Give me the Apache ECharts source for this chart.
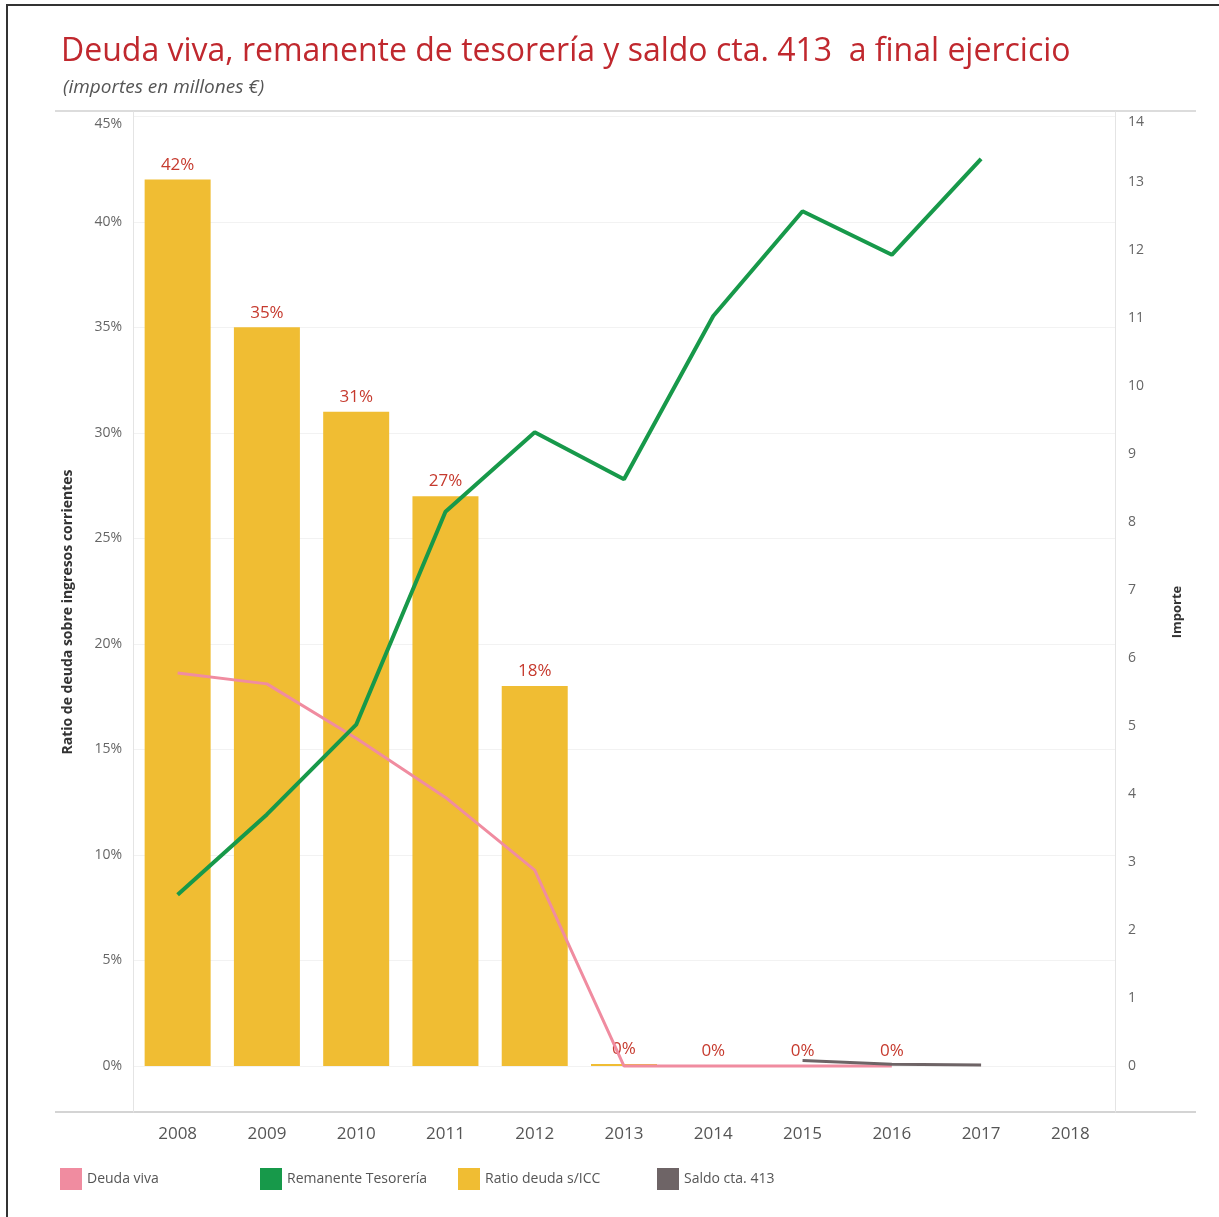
<!DOCTYPE html>
<html>
<head>
<meta charset="utf-8">
<script src="https://cdn.jsdelivr.net/npm/echarts@6/dist/echarts.min.js"></script>
<style>
html,body{margin:0;padding:0;background:#fff;}
#main{width:1219px;height:1217px;}
</style>
</head>
<body>
<div id="main"></div>
<script>
var years = ['2008','2009','2010','2011','2012','2013','2014','2015','2016','2017','2018'];
var ratioDeuda = [42, 35, 31, 27, 18, 0.1, 0, 0, 0, null, null];
var deudaViva = [5.78, 5.62, 4.82, 3.95, 2.88, 0, 0, 0, 0, null, null];
var remanente = [2.52, 3.7, 5.02, 8.15, 9.32, 8.63, 11.03, 12.57, 11.93, 13.34, null];
var saldo413 = [null, null, null, null, null, null, null, 0.08, 0.025, 0.015, null];
var leftTicks = [0, 5, 10, 15, 20, 25, 30, 35, 40, 45];
var rightTicks = [0, 1, 2, 3, 4, 5, 6, 7, 8, 9, 10, 11, 12, 13, 14];

var chart = echarts.init(document.getElementById('main'), null, {renderer: 'canvas'});
var FONT = 'Open Sans';
var legendText = {fontFamily: FONT, fontSize: 14, color: '#555'};
function legendAt(name, left) {
  return {
    data: [name], left: left, top: 1163, icon: 'rect', itemWidth: 22, itemHeight: 22,
    itemGap: 8, textStyle: legendText, selectedMode: false
  };
}
var topRich = {t: {padding: [16, 0, 0, 0], fontFamily: FONT, fontSize: 14, color: '#666'}};
var option = {
  animation: false,
  backgroundColor: '#fff',
  title: [{
    text: 'Deuda viva, remanente de tesorería y saldo cta. 413  a final ejercicio',
    left: 56, top: 31,
    textStyle: {fontFamily: FONT, fontSize: 32, fontWeight: 'normal', color: '#c0282e'}
  }, {
    text: '(importes en millones €)',
    left: 58, top: 73,
    textStyle: {fontFamily: FONT, fontSize: 19, fontStyle: 'italic', fontWeight: 'normal', color: '#555'}
  }],
  legend: [
    legendAt('Deuda viva', 55),
    legendAt('Remanente Tesorería', 255),
    legendAt('Ratio deuda s/ICC', 453),
    legendAt('Saldo cta. 413', 652)
  ],
  grid: {left: 133, right: 104, top: 112, bottom: 105, containLabel: false},
  graphic: [
    {type: 'polyline', shape: {points: [[7, 1217], [7, 5], [1219, 5]]}, style: {stroke: '#333', lineWidth: 2, fill: null}, silent: true},
    {type: 'line', shape: {x1: 55, y1: 111, x2: 1196, y2: 111}, style: {stroke: '#dcdcdc', lineWidth: 2}, silent: true},
    {type: 'line', shape: {x1: 55, y1: 1112, x2: 1196, y2: 1112}, style: {stroke: '#d4d4d4', lineWidth: 2}, silent: true}
  ],
  xAxis: {
    type: 'category', data: years, boundaryGap: true,
    axisLine: {show: false}, axisTick: {show: false},
    axisLabel: {fontFamily: FONT, fontSize: 17, color: '#555', margin: 14}
  },
  yAxis: [{
    type: 'value', min: -2.18, max: 45.2, position: 'left',
    name: 'Ratio de deuda sobre ingresos corrientes', nameLocation: 'middle', nameGap: 58,
    nameTextStyle: {fontFamily: FONT, fontSize: 14, fontWeight: 'bold', color: '#333'},
    axisLine: {show: true, lineStyle: {color: '#e4e4e4', width: 1}},
    axisTick: {show: false, customValues: leftTicks},
    axisLabel: {
      customValues: leftTicks, fontFamily: FONT, fontSize: 14, color: '#666', margin: 11, rich: topRich,
      formatter: function (v) { return v === 45 ? '{t|' + v + '%}' : v + '%'; }
    },
    splitLine: {show: true, lineStyle: {color: '#f2f2f2', width: 1}}
  }, {
    type: 'value', min: -0.676, max: 14.03, position: 'right',
    name: 'Importe', nameLocation: 'middle', nameGap: 56,
    nameTextStyle: {fontFamily: FONT, fontSize: 13, fontWeight: 'bold', color: '#333'},
    nameRotate: 90,
    axisLine: {show: true, lineStyle: {color: '#e4e4e4', width: 1}},
    axisTick: {show: false, customValues: rightTicks},
    axisLabel: {
      customValues: rightTicks, fontFamily: FONT, fontSize: 14, color: '#666', margin: 13, rich: topRich,
      formatter: function (v) { return v === 14 ? '{t|' + v + '}' : String(v); }
    },
    splitLine: {show: false}
  }],
  series: [{
    name: 'Ratio deuda s/ICC', type: 'bar', yAxisIndex: 0, data: ratioDeuda, barWidth: 66,
    itemStyle: {color: '#f0bd33'}, z: 1,
    label: {
      show: true, position: 'top', distance: 6, fontFamily: FONT, fontSize: 17, fontWeight: 500, color: '#c63a2e',
      formatter: function (p) { return p.value == null ? '' : Math.round(p.value) + '%'; }
    }
  }, {
    name: 'Deuda viva', type: 'line', yAxisIndex: 1, data: deudaViva, symbol: 'none',
    lineStyle: {color: '#f08ca0', width: 3}, itemStyle: {color: '#f08ca0'}, z: 3
  }, {
    name: 'Remanente Tesorería', type: 'line', yAxisIndex: 1, data: remanente, symbol: 'none',
    lineStyle: {color: '#17994a', width: 4}, itemStyle: {color: '#17994a'}, z: 4
  }, {
    name: 'Saldo cta. 413', type: 'line', yAxisIndex: 1, data: saldo413, symbol: 'none',
    lineStyle: {color: '#6e6466', width: 3}, itemStyle: {color: '#6e6466'}, z: 4
  }]
};
chart.setOption(option);
</script>
</body>
</html>
